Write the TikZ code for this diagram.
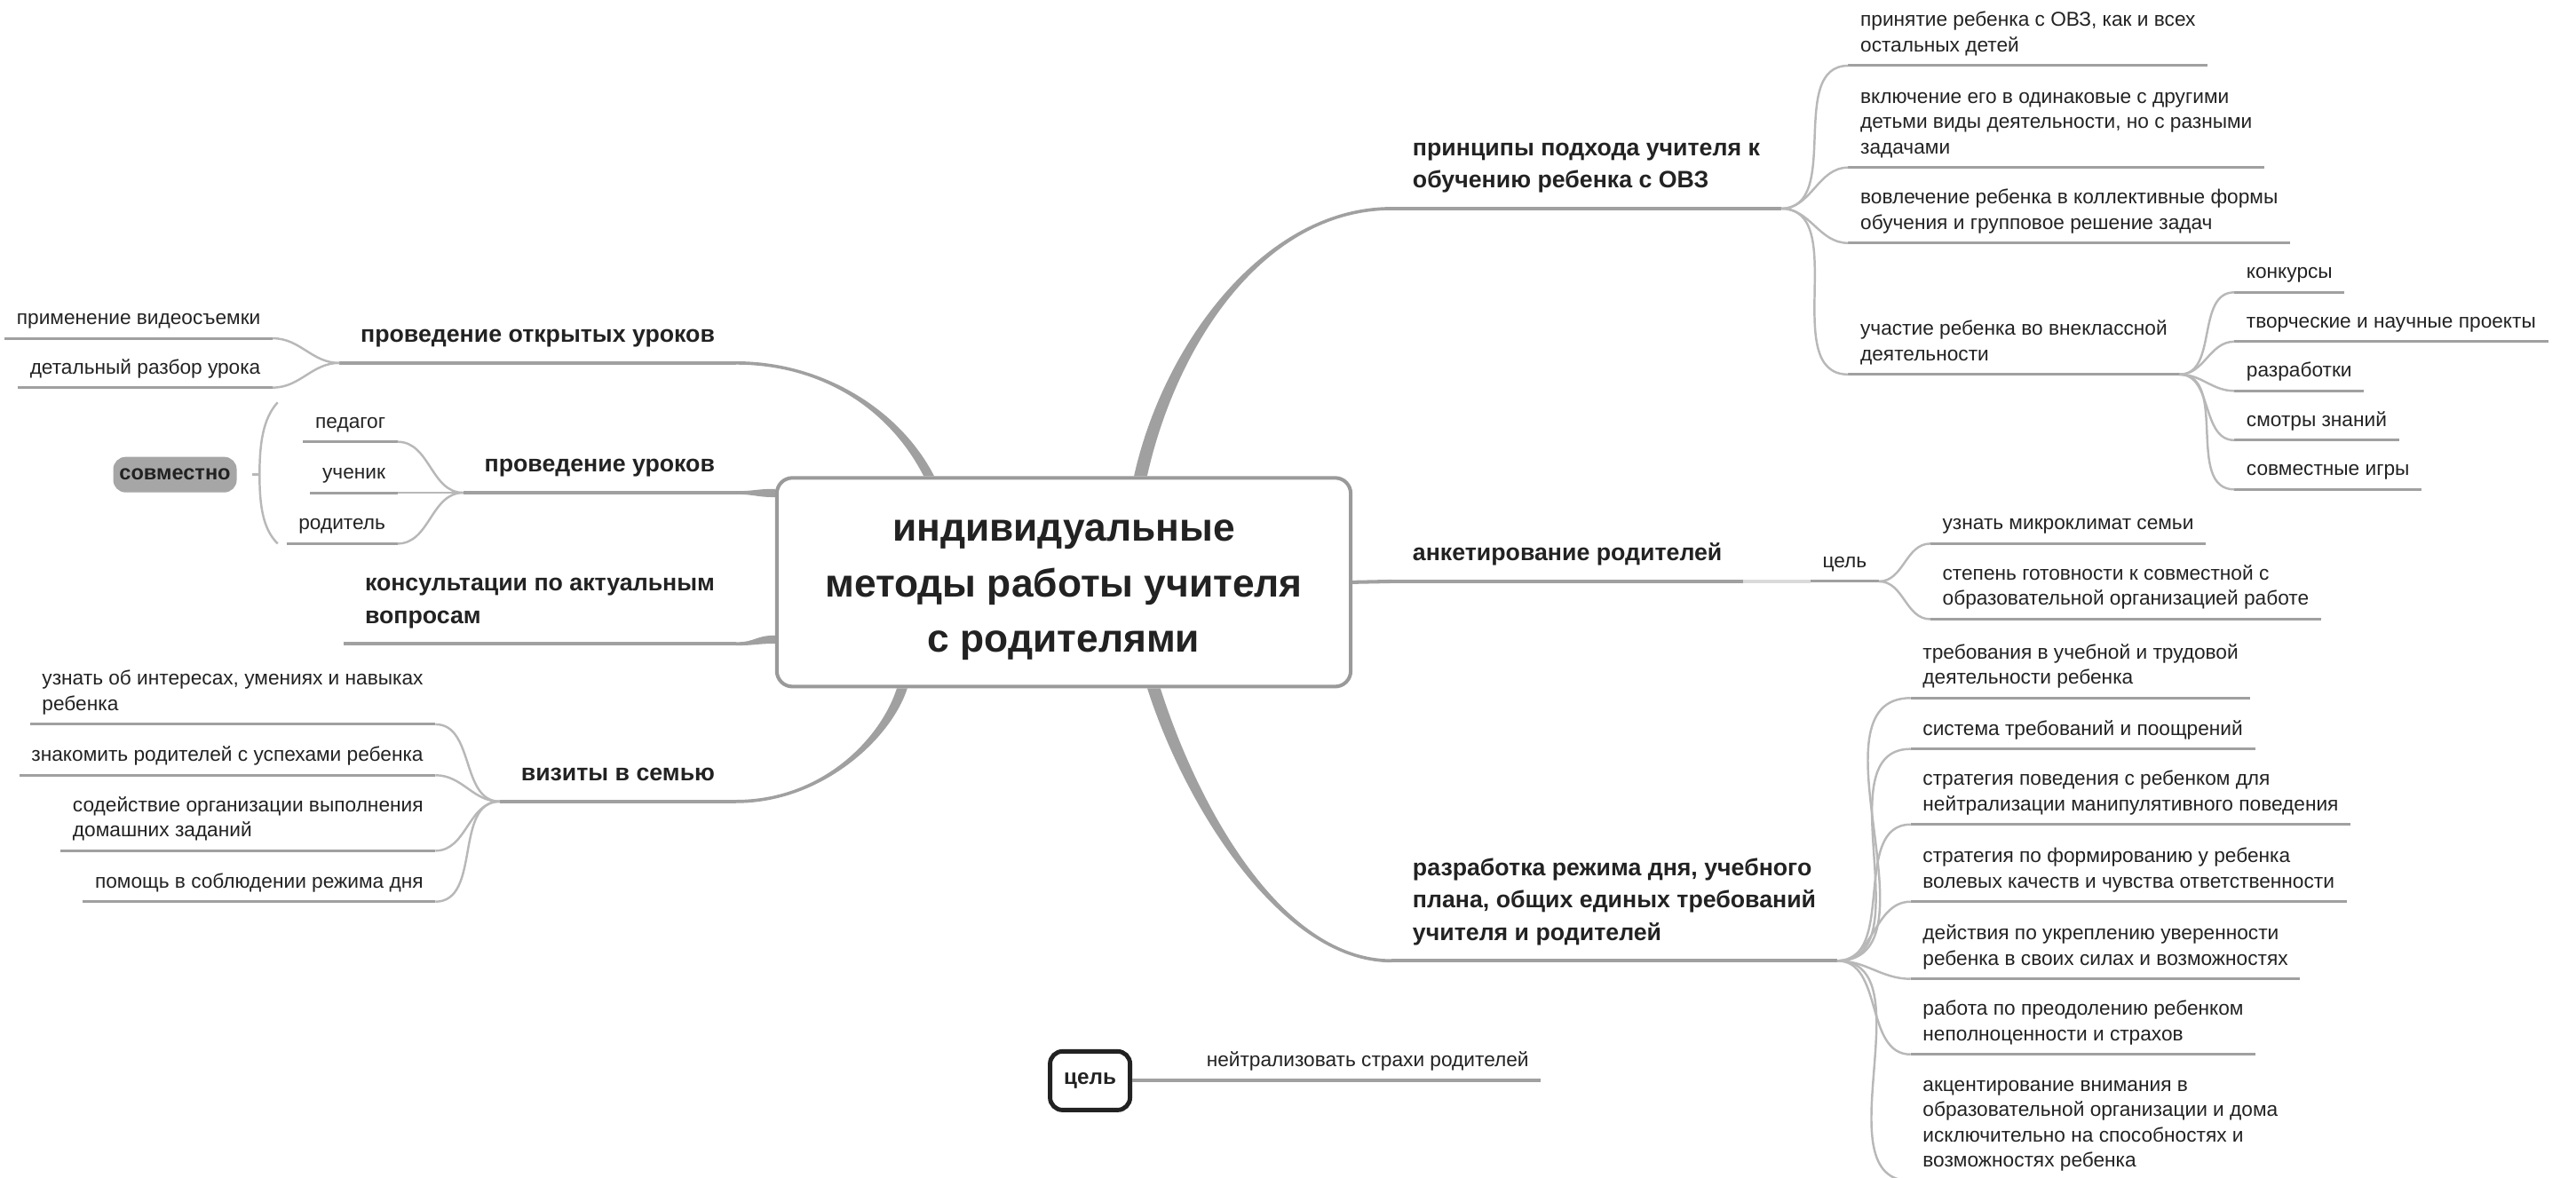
\documentclass[tikz,border=0pt]{standalone}
\usepackage{fontspec}
\setmainfont{Liberation Sans}
\usetikzlibrary{calc}
\definecolor{linegray}{HTML}{A0A0A0}
\definecolor{fangray}{HTML}{B8B8B8}
\definecolor{framegray}{HTML}{9A9A9A}
\definecolor{palegray}{HTML}{DADADA}
\definecolor{ink}{HTML}{222222}
\definecolor{tagfill}{HTML}{A6A6A6}
\tikzset{
  rootbox/.style={draw=framegray, line width=1.15pt, rounded corners=5pt, fill=white,
    minimum width=6.46cm, minimum height=2.35cm, align=center, text=ink,
    font=\fontsize{12.6}{17.9}\selectfont\bfseries},
  topic/.style={inner xsep=6.6pt, inner ysep=3.3pt, align=left, text=ink,
    font=\fontsize{7.6}{10.3}\selectfont\bfseries, execute at end node=\strut},
  leaf/.style={inner xsep=3.7pt, inner ysep=1.8pt, align=left, text=ink,
    font=\fontsize{6.45}{8.1}\selectfont, execute at end node=\strut},
  tline/.style={draw=linegray, line width=1.15pt},
  uline/.style={draw=linegray, line width=0.85pt},
  fan/.style={draw=fangray, line width=0.7pt},
}
\begin{document}
\begin{tikzpicture}[x=0.0185cm, y=-0.0185cm]
	\useasboundingbox (0,0) rectangle (1568,717);
	% centre
	\node[rootbox] (root) at (647.5,354.5) {\rule{0pt}{11.8pt}индивидуальные\\методы работы учителя\\с родителями};
	% main topics
	\node[topic, anchor=south west] (princ) at (847,127) {принципы подхода учителя к\\обучению ребенка с ОВЗ};
	\node[topic, anchor=south west] (survey) at (847,354) {анкетирование родителей};
	\node[topic, anchor=south west] (plan) at (847,585) {разработка режима дня, учебного\\плана, общих единых требований\\учителя и родителей};
	\node[topic, anchor=south east] (open) at (448,221) {проведение открытых уроков};
	\node[topic, anchor=south east] (lesson) at (448,300) {проведение уроков};
	\node[topic, anchor=south east] (consult) at (448,392) {консультации по актуальным\\вопросам};
	\node[topic, anchor=south east] (visit) at (448,488) {визиты в семью};
	% principles
	\node[leaf, anchor=south west] (p1) at (1125,40) {принятие ребенка с ОВЗ, как и всех\\остальных детей};
	\node[leaf, anchor=south west] (p2) at (1125,102) {включение его в одинаковые с другими\\детьми виды деятельности, но с разными\\задачами};
	\node[leaf, anchor=south west] (p3) at (1125,148) {вовлечение ребенка в коллективные формы\\обучения и групповое решение задач};
	\node[leaf, anchor=south west] (p4) at (1125,228) {участие ребенка во внеклассной\\деятельности};
	\node[leaf, anchor=south west] (q1) at (1360,178) {конкурсы};
	\node[leaf, anchor=south west] (q2) at (1360,208) {творческие и научные проекты};
	\node[leaf, anchor=south west] (q3) at (1360,238) {разработки};
	\node[leaf, anchor=south west] (q4) at (1360,268) {смотры знаний};
	\node[leaf, anchor=south west] (q5) at (1360,298) {совместные игры};
	% survey
	\node[leaf, anchor=south west] (sgoal) at (1102,354) {цель};
	\node[leaf, anchor=south west] (s1) at (1175,331) {узнать микроклимат семьи};
	\node[leaf, anchor=south west] (s2) at (1175,377) {степень готовности к совместной с\\образовательной организацией работе};
	% plan
	\node[leaf, anchor=south west] (d1) at (1163,425) {требования в учебной и трудовой\\деятельности ребенка};
	\node[leaf, anchor=south west] (d2) at (1163,456) {система требований и поощрений};
	\node[leaf, anchor=south west] (d3) at (1163,502) {стратегия поведения с ребенком для\\нейтрализации манипулятивного поведения};
	\node[leaf, anchor=south west] (d4) at (1163,549) {стратегия по формированию у ребенка\\волевых качеств и чувства ответственности};
	\node[leaf, anchor=south west] (d5) at (1163,596) {действия по укреплению уверенности\\ребенка в своих силах и возможностях};
	\node[leaf, anchor=south west] (d6) at (1163,642) {работа по преодолению ребенком\\неполноценности и страхов};
	\node[leaf, anchor=south west] (d7) at (1163,719) {акцентирование внимания в\\образовательной организации и дома\\исключительно на способностях и\\возможностях ребенка};
	% left side
	\node[leaf, anchor=south east] (o1) at (166,206) {применение видеосъемки};
	\node[leaf, anchor=south east] (o2) at (166,236) {детальный разбор урока};
	\node[leaf, anchor=south east] (l1) at (242,269) {педагог};
	\node[leaf, anchor=south east] (l2) at (242,300) {ученик};
	\node[leaf, anchor=south east] (l3) at (242,331) {родитель};
	\node[leaf, anchor=south east] (v1) at (265,441) {узнать об интересах, умениях и навыках\\ребенка};
	\node[leaf, anchor=south east] (v2) at (265,472) {знакомить родителей с успехами ребенка};
	\node[leaf, anchor=south east] (v3) at (265,518) {содействие организации выполнения\\домашних заданий};
	\node[leaf, anchor=south east] (v4) at (265,549) {помощь в соблюдении режима дня};
	\node[fill=tagfill, rounded corners=4pt, minimum width=1.39cm, minimum height=0.4cm, inner sep=0pt, text=ink,
		font=\fontsize{6.7}{8}\selectfont\bfseries] (jointly) at (106.5,289) {совместно};
	% floating
	\node[draw=ink, line width=1.4pt, rounded corners=4pt, minimum width=0.9cm, minimum height=0.66cm, inner sep=0pt, text=ink,
		font=\fontsize{6.9}{8}\selectfont\bfseries] (aim) at (663.5,658) {цель};
	\node[leaf, anchor=south west] (calm) at (727,658) {нейтрализовать страхи родителей};

	% trunks from the centre
	\coordinate (rOpen) at ($(root.north west)!0.2665!(root.north east)$);
	\coordinate (rPrinc) at ($(root.north west)!0.633!(root.north east)$);
	\coordinate (rVisit) at ($(root.south west)!0.22!(root.south east)$);
	\coordinate (rPlan) at ($(root.south west)!0.656!(root.south east)$);
	\coordinate (rLesson) at ($(root.north west)!0.08!(root.south west)$);
	\coordinate (rConsult) at ($(root.north west)!0.77!(root.south west)$);
	\fill[linegray] ($(rOpen)+(-3.2,0)$) .. controls +(-21,-41) and +(52,0) .. ($(open.south east)+(0,1)$)
		-- ($(open.south east)+(0,-1)$) .. controls +(52,0) and +(-21,-41) .. ($(rOpen)+(3.2,0)$) -- cycle;
	\fill[linegray] ($(rPrinc)+(4,0)$) .. controls +(18,-81) and +(-77,0) .. ($(princ.south west)+(0,1)$)
		-- ($(princ.south west)+(0,-1)$) .. controls +(-77,0) and +(18,-81) .. ($(rPrinc)+(-4,0)$) -- cycle;
	\fill[linegray] ($(rVisit)+(-3.2,0)$) .. controls +(-10,31) and +(52,0) .. ($(visit.south east)+(0,-1)$)
		-- ($(visit.south east)+(0,1)$) .. controls +(52,0) and +(-10,31) .. ($(rVisit)+(3.2,0)$) -- cycle;
	\fill[linegray] ($(rPlan)+(4,0)$) .. controls +(23,72) and +(-67,0) .. ($(plan.south west)+(0,-1)$)
		-- ($(plan.south west)+(0,1)$) .. controls +(-67,0) and +(23,72) .. ($(rPlan)+(-4,0)$) -- cycle;
	\fill[linegray] ($(rLesson)+(0,-2.5)$) .. controls +(-12,0) and +(12,0) .. ($(lesson.south east)+(0,-1)$)
		-- ($(lesson.south east)+(0,1)$) .. controls +(12,0) and +(-12,0) .. ($(rLesson)+(0,2.5)$) -- cycle;
	\fill[linegray] ($(rConsult)+(0,-2.5)$) .. controls +(-12,0) and +(12,0) .. ($(consult.south east)+(0,-1)$)
		-- ($(consult.south east)+(0,1)$) .. controls +(12,0) and +(-12,0) .. ($(rConsult)+(0,2.5)$) -- cycle;
	\draw[tline] (root.east) -- (survey.south west);

	% underlines
	\foreach \n in {princ,survey,plan,open,lesson,consult,visit}
		\draw[tline] (\n.south west) -- (\n.south east);
	\foreach \n in {p1,p2,p3,p4,q1,q2,q3,q4,q5,sgoal,s1,s2,d1,d2,d3,d4,d5,d6,d7,o1,o2,l1,l2,l3,v1,v2,v3,v4}
		\draw[uline] (\n.south west) -- (\n.south east);
	\draw[tline] (calm.south west) -- (calm.south east);

	% fans
	\foreach \i in {1,...,4}
		\draw[fan] (princ.south east) to[out=0,in=180] (p\i.south west);
	\foreach \i in {1,...,5}
		\draw[fan] (p4.south east) to[out=0,in=180] (q\i.south west);
	\draw[draw=palegray, line width=1.15pt] (survey.south east) -- (sgoal.south west);
	\foreach \i in {1,2}
		\draw[fan] (sgoal.south east) to[out=0,in=180] (s\i.south west);
	\foreach \i in {1,...,7}
		\draw[fan] (plan.south east) to[out=0,in=180] (d\i.south west);
	\foreach \i in {1,2}
		\draw[fan] (open.south west) to[out=180,in=0] (o\i.south east);
	\foreach \i in {1,2,3}
		\draw[fan] (lesson.south west) to[out=180,in=0] (l\i.south east);
	\foreach \i in {1,...,4}
		\draw[fan] (visit.south west) to[out=180,in=0] (v\i.south east);

	% summary bracket
	\coordinate (btop) at (169,245);
	\coordinate (bmid) at (158,289);
	\coordinate (bbot) at (169,331);
	\draw[fan] (btop) .. controls (160,255) and (158,270) .. (bmid) .. controls (158,308) and (160,322) .. (bbot);
	\draw[fan] ($(jointly.east)+(9,0)$) -- (bmid);

	\draw[tline] (aim.east) -- (calm.south west);
\end{tikzpicture}
\end{document}
